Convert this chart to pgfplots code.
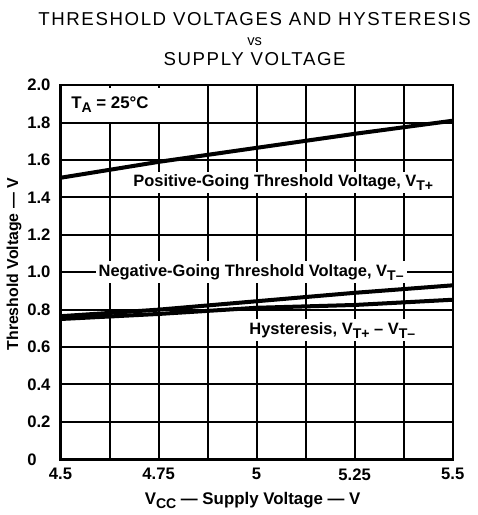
\documentclass[border=0pt]{standalone}
\usepackage{fontspec}
\setmainfont{Liberation Sans}
\usepackage{pgfplots}
\pgfplotsset{compat=1.18}
\newcommand\sub[1]{\raisebox{-0.45ex}{\fontsize{7}{7}\selectfont #1}}
\begin{document}
\begin{tikzpicture}
\begin{axis}[
  scale only axis, width=195.5pt, height=186.5pt,
  xmin=4.5, xmax=5.5, ymin=0, ymax=2,
  xtick={4.5,4.75,5,5.25,5.5},
  xticklabels={4.5,4.75,5,5.25,5.5},
  minor xtick={4.625,4.875,5.125,5.375},
  ytick={0,0.2,0.4,0.6,0.8,1.0,1.2,1.4,1.6,1.8,2.0},
  yticklabels={0\phantom{.0},0.2,0.4,0.6,0.8,1.0,1.2,1.4,1.6,1.8,2.0},
  grid=both,
  major grid style={black, line width=1pt},
  minor grid style={black, line width=1pt},
  axis line style={black, line width=1.2pt},
  major tick length=0pt, minor tick length=0pt,
  tick style={draw=none},
  /pgf/number format/assume math mode=true,
  ticklabel style={font=\bfseries\fontsize{8.3}{9}\selectfont},
  xticklabel style={yshift=-1pt},
  yticklabel style={xshift=-1.5pt},
  xlabel={V\sub{CC} --- Supply Voltage --- V},
  ylabel={Threshold Voltage --- V},
  label style={font=\bfseries\fontsize{8.4}{10}\selectfont},
  xlabel style={yshift=1pt, xshift=-2pt},
  ylabel style={yshift=-4pt, xshift=4pt, font=\bfseries\fontsize{7.9}{10}\selectfont},
  title={\rule{0pt}{9.5pt}\addfontfeatures{LetterSpace=8.6}THRESHOLD VOLTAGES AND HYSTERESIS\\[-0.5pt]{\fontsize{7.3}{7}\selectfont vs}\\[-0.5pt]\addfontfeatures{LetterSpace=8.6}SUPPLY VOLTAGE},
  title style={at={(0.5,1)}, anchor=south, yshift=0pt, xshift=-1pt, align=center, font=\fontsize{9.3}{10.5}\selectfont},
]
\addplot[black, line width=2pt] coordinates {(4.5,1.505)(4.75,1.59)(5,1.665)(5.25,1.74)(5.5,1.81)};
\addplot[black, line width=2pt] coordinates {(4.5,0.765)(4.75,0.80)(5,0.845)(5.25,0.89)(5.5,0.93)};
\addplot[black, line width=2pt] coordinates {(4.5,0.75)(4.75,0.777)(5,0.81)(5.25,0.825)(5.5,0.853)};
\node[fill=white, anchor=north west, inner xsep=4pt, inner ysep=0pt, minimum width=48pt, minimum height=17pt, font=\bfseries\fontsize{8.4}{10}\selectfont] at (axis cs:4.506,1.988) {\makebox[40pt][l]{T\sub{A} = 25\textdegree C}};
\node[fill=white, inner sep=1.5pt, font=\bfseries\fontsize{8.2}{9}\selectfont] at (axis cs:5.068,1.48) {Positive-Going Threshold Voltage, V\sub{T+}};
\node[fill=white, inner sep=1.5pt, font=\bfseries\fontsize{8.2}{9}\selectfont] at (axis cs:4.986,1.0) {Negative-Going Threshold Voltage, V\sub{T--}};
\node[fill=white, inner sep=1.5pt, font=\bfseries\fontsize{8.2}{9}\selectfont] at (axis cs:5.193,0.69) {Hysteresis, V\sub{T+} -- V\sub{T--}};
\end{axis}
\end{tikzpicture}
\end{document}
